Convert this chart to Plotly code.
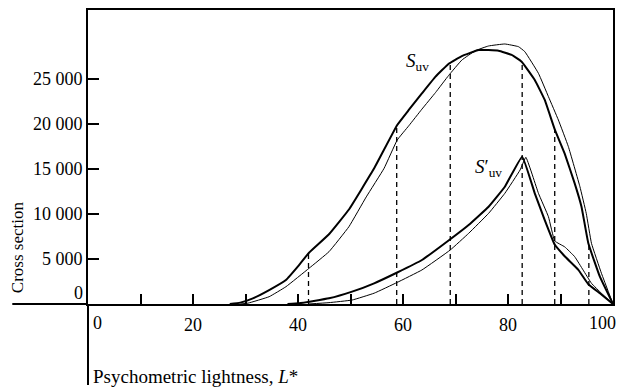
import plotly.graph_objects as go

# ---- data ----
suv_thick_L = [27, 29, 31.4, 34.5, 37.7, 40.2, 42.1, 45.9, 49.7, 54.5, 58.9, 61.1, 63.6, 66.2, 68.7,
               71.2, 74.4, 78.2, 80.7, 82.6, 85.1, 87.0, 88.9, 90.8, 92.7, 94.0, 95.3, 97.5, 100]
suv_thick_v = [0, 150, 630, 1550, 2670, 4330, 5700, 7750, 10500, 15070, 19890, 21560, 23400, 25260, 26700,
               27550, 28220, 28150, 27670, 26920, 24890, 22670, 19400, 16700, 13410, 10810, 6740, 3030, 0]

suv_thin_L = [29, 30.5, 34.5, 37.7, 42.1, 45.9, 49.7, 53, 56.4, 58.9, 61.1, 63.6, 66.2, 68.7,
              71.2, 73.8, 76.3, 79.4, 82.0, 83.2, 85.8, 87.7, 89.6, 91.5, 93.7, 94.9, 95.9, 97.8, 100]
suv_thin_v = [0, 100, 810, 1920, 3970, 5810, 8590, 11900, 15080, 18220, 19800, 21650, 23500, 25400,
              27100, 28150, 28670, 28890, 28590, 28040, 25630, 23040, 20440, 17480, 13030, 10080, 6740, 3410, 0]

sp_thick_L = [38, 40.2, 45.9, 50.3, 54.5, 58.9, 63.6, 69.0, 72.5, 76.3, 79.4, 82.7,
              85.1, 87.0, 88.9, 90.8, 93.4, 95.3, 97.5, 100]
sp_thick_v = [0, 80, 630, 1370, 2300, 3500, 4890, 7200, 8780, 10810, 13030, 16370,
              12300, 9330, 6600, 5300, 3800, 2200, 1190, 0]

sp_thin_L = [42, 45.9, 50.3, 54.5, 58.9, 63.6, 69.0, 72.5, 76.3, 79.4, 82.3, 83.4,
             85.8, 87.7, 88.9, 90.8, 92.7, 94.3, 95.9, 97.8, 100]
sp_thin_v = [0, 150, 440, 1200, 2400, 3780, 6000, 7850, 10070, 12300, 14890, 16300,
             12300, 9700, 7000, 6350, 5260, 3780, 2300, 1190, 0]

dash_L = [42.0, 58.8, 69.0, 82.7, 88.9, 95.4]
dash_top = [5700, 19890, 26600, 26900, 19400, 6700]

x_ticks = [20, 40, 60, 80]
x_ticktext = ["20", "40", "60", "80"]
x_minor_ticks = [10, 30, 50, 70, 90]
y_ticks = [5000, 10000, 15000, 20000, 25000]
y_ticktext = ["5 000", "10 000", "15 000", "20 000", "25 000"]

FONT = "Liberation Serif"
FS = 18

fig = go.Figure()

# dashed verticals
dx, dy = [], []
for L, t in zip(dash_L, dash_top):
    dx += [L, L, None]
    dy += [0, t, None]
fig.add_trace(go.Scatter(x=dx, y=dy, mode="lines",
                         line=dict(color="black", width=1.3, dash="5px,4px"), hoverinfo="skip"))

for xs, ys, w in [(suv_thin_L, suv_thin_v, 1.0), (suv_thick_L, suv_thick_v, 2.0),
                  (sp_thin_L, sp_thin_v, 1.0), (sp_thick_L, sp_thick_v, 2.0)]:
    fig.add_trace(go.Scatter(x=xs, y=ys, mode="lines",
                             line=dict(color="black", width=w, shape="spline", smoothing=0.3),
                             hoverinfo="skip"))

fig.update_layout(
    width=619, height=389,
    margin=dict(l=88, r=4, t=10, b=85),
    paper_bgcolor="white", plot_bgcolor="white",
    showlegend=False,
    font=dict(family=FONT, size=FS, color="black"),
    xaxis=dict(range=[0, 100], showgrid=False, zeroline=False,
               showline=True, linecolor="black", linewidth=2, mirror=True,
               ticks="inside", ticklen=10, tickwidth=2, tickcolor="black",
               tickvals=x_ticks, ticktext=x_ticktext, ticklabelstandoff=3,
               minor=dict(tickvals=x_minor_ticks, ticks="inside", ticklen=10, tickwidth=2,
                          tickcolor="black", showgrid=False),
               tickfont=dict(family=FONT, size=FS)),
    yaxis=dict(range=[0, 32667], showgrid=False, zeroline=False,
               showline=True, linecolor="black", linewidth=2, mirror=True,
               ticks="inside", ticklen=11, tickwidth=2, tickcolor="black",
               tickvals=y_ticks, ticktext=y_ticktext, ticklabelstandoff=0,
               tickfont=dict(family=FONT, size=FS)),
)

# axis extensions
fig.add_shape(type="line", xref="paper", yref="paper", x0=-0.1442, x1=0, y0=0, y1=0,
              line=dict(color="black", width=2))
fig.add_shape(type="line", xref="paper", yref="paper", x0=0, x1=0, y0=0, y1=-0.2755,
              line=dict(color="black", width=2))

ann = [
    dict(text="0", x=0, xref="x", y=0, yref="paper", xanchor="left", yanchor="top", xshift=3, yshift=-7),
    dict(text="100", x=100, xref="x", y=0, yref="paper", xanchor="center", yanchor="top", xshift=-11, yshift=-7),
    dict(text="0", x=0, xref="paper", y=0, yref="y", xanchor="right", yanchor="middle", xshift=-3, yshift=11),
    dict(text="Cross section", x=-0.133, xref="paper", y=0.194, yref="paper", textangle=-90,
         xanchor="center", yanchor="middle", font=dict(size=17)),
    dict(text="Psychometric lightness, <i>L</i>*", x=0, xref="paper", y=-0.245, yref="paper",
         xanchor="left", yanchor="middle", xshift=3, font=dict(size=19)),
]
for a in ann:
    a["showarrow"] = False
    fig.add_annotation(**a)

fig.add_annotation(text="<i>S</i><sub>uv</sub>", x=(419 - 88) / 5.27, y=(304 - 62) * 111.1,
                   showarrow=False, font=dict(size=19), xanchor="center", yanchor="middle")
fig.add_annotation(text="<i>S</i>′<sub>uv</sub>", x=(490 - 88) / 5.27, y=(304 - 168) * 111.1,
                   showarrow=False, font=dict(size=19), xanchor="center", yanchor="middle")

fig.write_html("out.html")
